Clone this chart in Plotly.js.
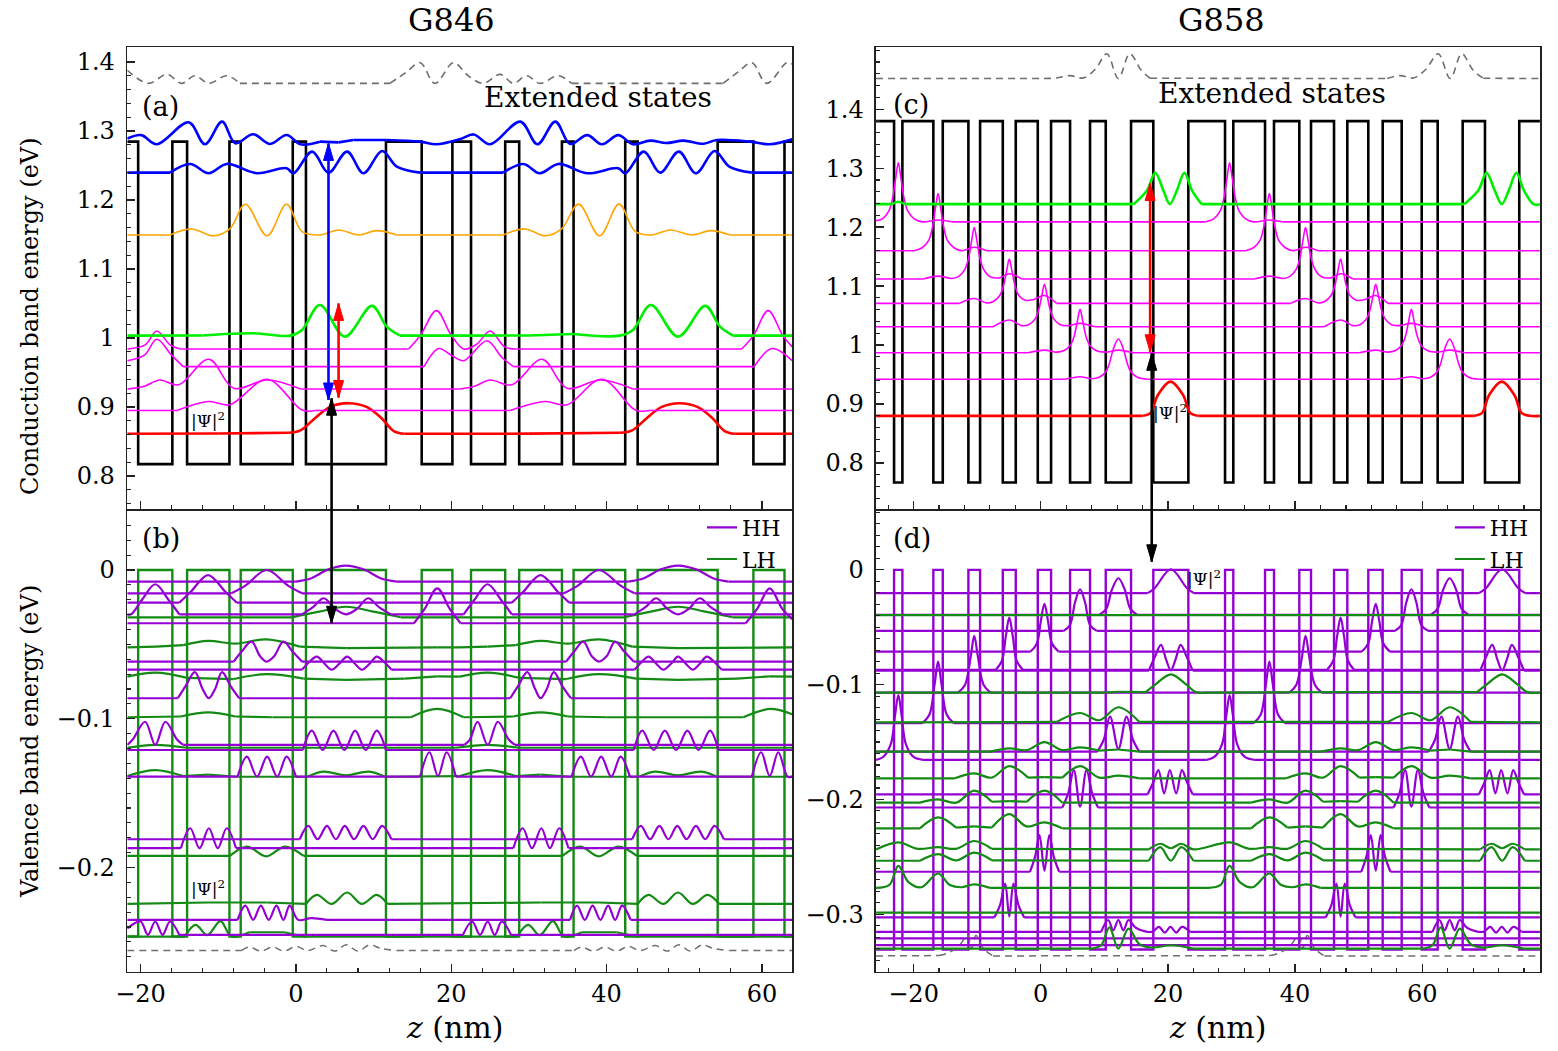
<!DOCTYPE html>
<html><head><meta charset="utf-8">
<script src="https://cdn.plot.ly/plotly-3.0.1.min.js"></script>
<style>html,body{margin:0;padding:0;background:#fff}#chart{width:1558px;height:1051px}</style>
</head><body><div id="chart"></div>
<script>
// ---------------- axis ranges ----------------
const zRangeL = [-21.7, 63.9];
const zRangeR = [-25.9, 78.5];
const eRangeA = [0.752, 1.4213];
const eRangeB = [-0.270, 0.041];
const eRangeC = [0.722, 1.505];
const eRangeD = [-0.350, 0.053];
const zTicks = [-20, 0, 20, 40, 60];
const eTicksA = [0.8, 0.9, 1.0, 1.1, 1.2, 1.3, 1.4];
const eTicksB = [-0.2, -0.1, 0];
const eTicksC = [0.8, 0.9, 1.0, 1.1, 1.2, 1.3, 1.4];
const eTicksD = [-0.3, -0.2, -0.1, 0];

// ---------------- potential profiles (well edges, nm) ----------------
const wellsL = [[-20.3,-15.9],[-14.0,-8.55],[-7.1,-0.4],[1.3,11.6],[16.2,20.15],[22.55,26.95],[28.75,34.25],[35.75,42.4],[44.0,54.3],[58.9,62.9]];
const wellsR = [[-23.07,-21.76],[-16.89,-15.41],[-11.38,-9.54],[-5.97,-3.93],[-0.47,1.62],[4.61,7.75],[10.22,14.20],[17.70,23.21],[28.98,30.28],[35.27,36.68],[40.66,42.50],[46.12,48.21],[51.51,53.77],[56.76,59.91],[62.42,66.35],[69.86,75.25]];
const cbLevelsL = [1.2845, 0.817];   // barrier, well
const vbLevelsL = [-0.2464, 0.0];
const cbLevelsR = [1.3797, 0.767];
const vbLevelsR = [-0.3307, 0.0];

// ---------------- transition arrows: [z, E_tip1, E_tip2] ----------------
const arrowBlueA = [4.2, 0.910, 1.282];
const arrowRedA  = [5.5, 0.9135, 1.050];
const arrowBlackA = [4.6, 0.9126, -0.0358];   // from (a) down into (b)
const arrowRedC  = [17.2, 0.9887, 1.274];
const arrowBlackC = [17.45, 0.986, 0.007];    // from (c) down into (d)

// ---------------- (a) G846 conduction band |Psi|^2 ----------------
const aDashed = [[-21.7,1.388],[-19.0,1.369],[-16.6,1.382],[-14.7,1.369],[-13.0,1.380],[-11.2,1.369],[-8.9,1.380],[-7.2,1.369],[12.1,1.369],[14.2,1.385],[16.0,1.399],[17.9,1.369],[20.3,1.399],[22.2,1.380],[24.1,1.369],[26.3,1.382],[28.0,1.369],[29.7,1.380],[31.4,1.369],[33.8,1.380],[35.5,1.369],[55.0,1.369],[57.0,1.386],[58.7,1.399],[60.6,1.369],[63.2,1.399],[63.9,1.397]];
const aBlueUpper = [[-21.7,1.289],[-19.9,1.294],[-17.9,1.2807],[-13.8,1.3126],[-11.7,1.2807],[-9.5,1.3135],[-7.8,1.2822],[-5.5,1.2952],[-3.3,1.2812],[-1.2,1.2942],[0.6,1.2807],[3.1,1.2845],[5.5,1.2835],[7.4,1.287],[11.7,1.287],[16.0,1.2845],[18.1,1.2807],[21.1,1.288],[22.9,1.295],[25.0,1.2807],[28.9,1.3135],[31.1,1.2807],[33.4,1.3135],[35.3,1.2812],[37.5,1.294],[39.4,1.2807],[41.5,1.294],[43.4,1.2807],[45.6,1.286],[47.7,1.2825],[49.9,1.286],[52.5,1.2815],[54.2,1.287],[58.5,1.2845],[61.0,1.2807],[63.9,1.288]];
const aBlueLower = [[-21.7,1.2396],[-16.2,1.2396],[-13.6,1.2522],[-11.2,1.2387],[-8.9,1.2522],[-5.0,1.2387],[-1.2,1.246],[-0.3,1.2387],[2.1,1.27],[4.2,1.2396],[6.6,1.27],[8.7,1.2387],[11.1,1.271],[13.0,1.2483],[16.0,1.2396],[26.7,1.2396],[29.3,1.2522],[31.4,1.2387],[33.8,1.2522],[37.5,1.2387],[41.5,1.246],[42.4,1.2387],[44.8,1.27],[46.9,1.2396],[49.3,1.27],[51.5,1.2387],[53.9,1.271],[55.8,1.2483],[58.7,1.2396],[63.9,1.2396]];
const aOrange = [[-21.7,1.1493],[-16.2,1.1493],[-13.4,1.158],[-10.6,1.148],[-8.5,1.158],[-6.5,1.1938],[-3.7,1.148],[-1.2,1.1938],[0.8,1.154],[3.1,1.1493],[5.5,1.1565],[8.1,1.1493],[10.4,1.1555],[13.0,1.1493],[26.7,1.1493],[29.5,1.158],[32.1,1.148],[34.2,1.158],[36.4,1.194],[39.1,1.148],[41.6,1.194],[43.7,1.154],[45.8,1.1493],[48.2,1.1565],[51.0,1.1493],[53.4,1.1555],[55.9,1.1493],[63.9,1.1493]];
const aGreen = [[-21.7,1.0033],[-12.0,1.0036],[-5.5,1.0068],[-0.7,1.0033],[0.8,1.0116],[3.1,1.0478],[6.3,1.0019],[9.8,1.0464],[11.7,1.0164],[13.4,1.0033],[21.1,1.0033],[30.0,1.0036],[35.7,1.0058],[41.7,1.0033],[43.4,1.0116],[45.7,1.0478],[49.2,1.0019],[52.7,1.0464],[54.6,1.0164],[56.3,1.0033],[63.9,1.0033]];
const aMag1 = [[-21.7,0.984],[-19.4,0.990],[-17.9,1.0101],[-16.2,0.990],[-14.9,0.984],[14.5,0.984],[16.0,1.0033],[18.1,1.0396],[19.9,1.006],[21.6,0.984],[23.3,0.991],[25.0,1.0101],[26.9,0.987],[28.4,0.984],[57.4,0.984],[58.9,1.0033],[60.8,1.0396],[62.7,1.0033],[63.9,0.987]];
const aMag2 = [[-21.7,0.967],[-19.5,0.975],[-17.9,0.998],[-16.0,0.975],[-14.5,0.9584],[16.5,0.9584],[18.4,0.9846],[20.0,0.975],[21.6,0.967],[24.6,0.996],[26.5,0.972],[28.0,0.9584],[59.0,0.9584],[61.3,0.9846],[63.9,0.967]];
const aMag3 = [[-21.7,0.926],[-19.5,0.930],[-17.5,0.939],[-15.1,0.932],[-11.2,0.969],[-8.0,0.927],[-3.7,0.939],[0.6,0.926],[21.1,0.926],[23.0,0.930],[25.0,0.939],[27.8,0.932],[31.7,0.969],[34.9,0.927],[39.2,0.939],[43.4,0.926],[63.9,0.926]];
const aMag4 = [[-21.7,0.8947],[-15.3,0.8947],[-11.2,0.9078],[-8.5,0.903],[-3.7,0.9401],[0.8,0.8955],[2.5,0.8947],[27.6,0.8947],[32.1,0.9078],[34.9,0.903],[39.4,0.9401],[43.7,0.8955],[45.5,0.8947],[63.9,0.8947]];
const aRed = [[-21.7,0.861],[-10.0,0.8615],[-1.0,0.8625],[0.6,0.866],[2.5,0.884],[4.4,0.900],[6.8,0.9054],[9.1,0.900],[11.0,0.884],[12.6,0.865],[14.0,0.861],[30.0,0.8612],[41.7,0.8625],[43.3,0.866],[45.2,0.884],[47.1,0.900],[49.4,0.9054],[51.7,0.900],[53.6,0.884],[55.2,0.865],[56.5,0.861],[63.9,0.861]];

// ---------------- (b) G846 valence band ----------------
const bHH = [
 [[-21.7,-0.0078],[0.0,-0.0078],[2.0,-0.0055],[4.2,0.0005],[6.45,0.003],[8.7,0.0005],[10.9,-0.0055],[13.0,-0.0078],[42.8,-0.0078],[44.8,-0.0055],[47.0,0.0005],[49.2,0.003],[51.5,0.0005],[53.7,-0.0055],[55.7,-0.0078],[63.9,-0.0078]],
 [[-21.7,-0.0157],[-8.3,-0.0157],[-6.5,-0.0105],[-3.75,0.0],[-1.0,-0.0105],[0.8,-0.0157],[34.5,-0.0157],[36.3,-0.0105],[39.0,0.0],[41.8,-0.0105],[43.6,-0.0157],[63.9,-0.0157]],
 [[-21.7,-0.022],[-15.0,-0.022],[-13.5,-0.0145],[-11.3,-0.0034],[-9.1,-0.0145],[-7.6,-0.022],[27.8,-0.022],[29.3,-0.0145],[31.5,-0.0034],[33.7,-0.0145],[35.2,-0.022],[63.9,-0.022]],
 [[-21.7,-0.0298],[-21.2,-0.0298],[-19.8,-0.020],[-18.1,-0.0096],[-16.4,-0.020],[-15.0,-0.0298],[0.8,-0.0298],[2.2,-0.025],[3.6,-0.019],[5.0,-0.026],[6.45,-0.0298],[7.9,-0.026],[9.3,-0.019],[10.7,-0.025],[12.2,-0.0298],[21.6,-0.0298],[23.0,-0.020],[24.67,-0.0096],[26.4,-0.020],[27.8,-0.0298],[43.6,-0.0298],[45.0,-0.025],[46.4,-0.019],[47.8,-0.026],[49.2,-0.0298],[50.6,-0.026],[52.0,-0.019],[53.4,-0.025],[54.9,-0.0298],[63.9,-0.0298]],
 [[-21.7,-0.0358],[15.2,-0.0358],[16.6,-0.026],[18.2,-0.0123],[19.8,-0.026],[21.2,-0.0358],[57.9,-0.0358],[59.4,-0.026],[61.0,-0.0123],[62.6,-0.026],[63.9,-0.033]],
 [[-21.7,-0.0616],[-8.0,-0.0616],[-7.0,-0.055],[-5.7,-0.0482],[-4.6,-0.058],[-3.75,-0.0616],[-2.8,-0.058],[-1.6,-0.0482],[-0.4,-0.055],[0.8,-0.0616],[34.8,-0.0616],[35.8,-0.055],[37.0,-0.0482],[38.1,-0.058],[39.0,-0.0616],[40.0,-0.058],[41.1,-0.0482],[42.3,-0.055],[43.5,-0.0616],[63.9,-0.0616]],
 [[-21.7,-0.067],[0.8,-0.067],[1.7,-0.062],[2.7,-0.0583],[3.7,-0.063],[4.6,-0.067],[5.6,-0.063],[6.6,-0.0583],[7.6,-0.063],[8.5,-0.067],[9.5,-0.063],[10.4,-0.0583],[11.4,-0.062],[12.3,-0.067],[43.6,-0.067],[44.5,-0.062],[45.4,-0.0583],[46.4,-0.063],[47.3,-0.067],[48.3,-0.063],[49.2,-0.0583],[50.2,-0.063],[51.1,-0.067],[52.0,-0.063],[52.9,-0.0583],[53.9,-0.062],[54.8,-0.067],[63.9,-0.067]],
 [[-21.7,-0.0862],[-15.2,-0.0862],[-14.2,-0.078],[-13.0,-0.0687],[-12.0,-0.080],[-11.2,-0.0862],[-10.4,-0.080],[-9.5,-0.0687],[-8.4,-0.078],[-7.3,-0.0862],[27.6,-0.0862],[28.6,-0.078],[29.8,-0.0687],[30.8,-0.080],[31.5,-0.0862],[32.3,-0.080],[33.2,-0.0687],[34.3,-0.078],[35.4,-0.0862],[63.9,-0.0862]],
 [[-21.7,-0.1176],[-21.0,-0.114],[-19.4,-0.102],[-18.1,-0.1176],[-16.8,-0.102],[-15.3,-0.114],[-14.5,-0.1176],[21.7,-0.1176],[22.4,-0.114],[23.4,-0.102],[24.7,-0.1176],[26.0,-0.102],[27.4,-0.114],[28.2,-0.1176],[63.9,-0.1176]],
 [[-21.7,-0.121],[0.9,-0.121],[2.06,-0.108],[3.45,-0.121],[4.84,-0.108],[6.24,-0.121],[7.63,-0.108],[9.0,-0.121],[10.4,-0.108],[11.6,-0.121],[43.5,-0.121],[44.6,-0.108],[46.05,-0.121],[47.5,-0.108],[48.95,-0.121],[50.4,-0.108],[51.85,-0.121],[53.3,-0.108],[54.4,-0.121],[63.9,-0.121]],
 [[-21.7,-0.1389],[-7.5,-0.1389],[-6.3,-0.1255],[-5.0,-0.1389],[-3.7,-0.1255],[-2.4,-0.1389],[-1.2,-0.1255],[0.0,-0.1389],[16.0,-0.1389],[17.2,-0.1225],[18.3,-0.1385],[19.4,-0.1225],[20.6,-0.1389],[35.5,-0.1389],[36.7,-0.1255],[38.0,-0.1389],[39.3,-0.1255],[40.6,-0.1389],[41.8,-0.1255],[43.0,-0.1389],[58.7,-0.1389],[59.9,-0.1225],[61.0,-0.1385],[62.1,-0.1225],[63.3,-0.1389],[63.9,-0.1389]],
 [[-21.7,-0.181],[0.5,-0.181],[1.6,-0.172],[2.8,-0.181],[4.0,-0.172],[5.15,-0.181],[6.3,-0.172],[7.5,-0.181],[8.7,-0.172],[9.9,-0.181],[11.1,-0.172],[12.3,-0.181],[43.3,-0.181],[44.4,-0.172],[45.6,-0.181],[46.8,-0.172],[47.95,-0.181],[49.1,-0.172],[50.3,-0.181],[51.5,-0.172],[52.7,-0.181],[53.9,-0.172],[55.1,-0.181],[63.9,-0.181]],
 [[-21.7,-0.187],[-14.8,-0.187],[-13.6,-0.1736],[-12.4,-0.187],[-11.2,-0.1736],[-10.05,-0.187],[-8.9,-0.1736],[-7.7,-0.187],[28.0,-0.187],[29.2,-0.1736],[30.4,-0.187],[31.6,-0.1736],[32.7,-0.187],[33.9,-0.1736],[35.1,-0.187],[63.9,-0.187]],
 [[-21.7,-0.2352],[-7.5,-0.2352],[-6.5,-0.2256],[-5.5,-0.2352],[-4.5,-0.2256],[-3.5,-0.2352],[-2.5,-0.2256],[-1.6,-0.2352],[-0.8,-0.2256],[0.3,-0.2352],[2.0,-0.234],[4.0,-0.2352],[35.3,-0.2352],[36.2,-0.2256],[37.2,-0.2352],[38.2,-0.2256],[39.2,-0.2352],[40.2,-0.2256],[41.1,-0.2352],[42.0,-0.2256],[43.1,-0.2352],[63.9,-0.2352]],
 [[-21.7,-0.241],[-20.0,-0.2363],[-19.05,-0.2453],[-18.1,-0.2363],[-17.15,-0.2453],[-16.2,-0.2363],[-15.0,-0.2453],[21.5,-0.2453],[22.7,-0.2363],[23.7,-0.2453],[24.7,-0.2363],[25.6,-0.2453],[26.5,-0.2363],[27.7,-0.2453],[63.9,-0.2453]]
];
const bLH = [
 [[-21.7,-0.0318],[-0.5,-0.0318],[3.0,-0.028],[6.45,-0.0247],[10.0,-0.028],[13.5,-0.0318],[42.3,-0.0318],[45.7,-0.028],[49.2,-0.0247],[52.7,-0.028],[56.2,-0.0318],[63.9,-0.0318]],
 [[-21.7,-0.052],[-18.0,-0.0515],[-14.5,-0.0505],[-11.3,-0.0477],[-7.8,-0.0495],[-3.75,-0.0466],[0.5,-0.0515],[6.5,-0.0525],[18.2,-0.052],[21.0,-0.052],[24.7,-0.0515],[28.3,-0.0505],[31.5,-0.0477],[35.0,-0.0495],[39.0,-0.0466],[43.3,-0.0515],[49.2,-0.0525],[63.9,-0.052]],
 [[-21.7,-0.0717],[-18.1,-0.069],[-14.0,-0.0725],[-8.0,-0.0733],[-3.75,-0.070],[1.0,-0.073],[6.45,-0.0738],[14.0,-0.073],[18.2,-0.0715],[21.1,-0.0717],[24.7,-0.069],[28.8,-0.0725],[34.8,-0.0733],[39.0,-0.070],[43.8,-0.073],[49.2,-0.0738],[56.8,-0.073],[61.0,-0.0715],[63.9,-0.0717]],
 [[-21.7,-0.099],[-14.8,-0.0985],[-11.3,-0.0957],[-7.8,-0.0985],[-3.0,-0.099],[14.8,-0.099],[18.2,-0.0934],[21.6,-0.099],[28.0,-0.0985],[31.5,-0.0957],[35.0,-0.0985],[40.0,-0.099],[57.6,-0.099],[61.0,-0.0934],[63.9,-0.097]],
 [[-21.7,-0.1195],[-18.1,-0.1175],[-14.0,-0.1195],[20.6,-0.1195],[24.7,-0.1175],[28.8,-0.1195],[63.9,-0.1195]],
 [[-21.7,-0.1385],[-18.1,-0.1345],[-14.5,-0.1385],[-11.3,-0.1375],[-7.5,-0.139],[1.5,-0.139],[3.5,-0.1355],[6.45,-0.138],[9.4,-0.1355],[11.5,-0.139],[21.1,-0.1385],[24.7,-0.1345],[28.3,-0.1385],[31.5,-0.1375],[35.3,-0.139],[44.2,-0.139],[46.2,-0.1355],[49.2,-0.138],[52.2,-0.1355],[54.2,-0.139],[63.9,-0.139]],
 [[-21.7,-0.1922],[-8.5,-0.1922],[-6.3,-0.1859],[-3.8,-0.1925],[-1.4,-0.1859],[1.0,-0.1922],[34.3,-0.1922],[36.6,-0.1859],[39.0,-0.1925],[41.5,-0.1859],[43.9,-0.1922],[63.9,-0.1922]],
 [[-21.7,-0.2245],[-11.3,-0.2235],[-3.75,-0.2235],[1.3,-0.2245],[2.7,-0.2184],[4.6,-0.2245],[6.6,-0.2168],[8.5,-0.2245],[10.4,-0.2184],[11.8,-0.2245],[31.5,-0.2235],[39.0,-0.2235],[44.0,-0.2245],[45.4,-0.2184],[47.3,-0.2245],[49.2,-0.2168],[51.1,-0.2245],[53.0,-0.2184],[54.5,-0.2245],[63.9,-0.2245]],
 [[-21.7,-0.2464],[-14.3,-0.2464],[-12.9,-0.2385],[-11.4,-0.2455],[-9.7,-0.236],[-8.3,-0.2464],[-6.0,-0.2435],[-1.5,-0.2435],[1.0,-0.2464],[28.5,-0.2464],[29.9,-0.2385],[31.4,-0.2455],[33.1,-0.236],[34.5,-0.2464],[36.8,-0.2435],[41.3,-0.2435],[43.8,-0.2464],[63.9,-0.2464]]
];
const bDashed = [[-21.7,-0.2558],[-7.0,-0.2558],[-6.0,-0.2535],[-4.5,-0.2562],[-3.0,-0.2535],[-1.5,-0.2562],[0.0,-0.253],[1.5,-0.2558],[3.5,-0.2525],[5.0,-0.2562],[6.5,-0.252],[8.0,-0.2562],[9.5,-0.252],[11.0,-0.2545],[13.0,-0.2558],[35.8,-0.2558],[36.8,-0.2535],[38.3,-0.2562],[39.8,-0.2535],[41.3,-0.2562],[42.8,-0.253],[44.3,-0.2558],[46.3,-0.2525],[47.8,-0.2562],[49.3,-0.252],[50.8,-0.2562],[52.3,-0.252],[53.8,-0.2545],[55.8,-0.2558],[63.9,-0.2558]];

// ---------------- (c) G858 conduction band ----------------
const cDashed = [[-25.9,1.452],[0.5,1.452],[2.5,1.453],[4.6,1.457],[6.7,1.453],[8.6,1.468],[10.4,1.494],[12.2,1.452],[14.0,1.494],[15.8,1.466],[17.2,1.4525],[54.5,1.452],[56.5,1.457],[58.6,1.453],[60.6,1.468],[62.5,1.494],[64.4,1.452],[66.2,1.494],[68.0,1.466],[69.6,1.4525],[78.5,1.452]];
const cGreen = [[-25.9,1.239],[-23.4,1.239],[-22.4,1.243],[-21.4,1.239],[14.6,1.239],[16.7,1.262],[18.0,1.292],[19.3,1.262],[20.3,1.239],[21.4,1.262],[22.6,1.292],[23.8,1.262],[25.3,1.239],[66.6,1.239],[68.8,1.262],[70.1,1.292],[71.4,1.262],[72.5,1.239],[73.6,1.262],[74.8,1.292],[76.0,1.262],[77.5,1.239],[78.5,1.239]];
const cMag = [
 [[-25.9,1.211],[-24.9,1.214],[-23.9,1.227],[-23.3,1.249],[-22.8,1.284],[-22.4,1.309],[-22.0,1.284],[-21.5,1.249],[-20.9,1.227],[-19.9,1.214],[-18.6,1.209],[-16.15,1.212],[-14.0,1.209],[25.9,1.209],[27.2,1.214],[28.2,1.227],[28.8,1.249],[29.3,1.284],[29.7,1.309],[30.1,1.284],[30.6,1.249],[31.2,1.227],[32.2,1.214],[33.5,1.209],[35.95,1.212],[38.0,1.209],[78.5,1.209]],
 [[-25.9,1.160],[-19.9,1.160],[-18.65,1.165],[-17.65,1.177],[-17.05,1.199],[-16.55,1.233],[-16.15,1.257],[-15.75,1.233],[-15.25,1.199],[-14.65,1.177],[-13.65,1.165],[-12.4,1.160],[-10.46,1.166],[-8.5,1.160],[32.2,1.160],[33.45,1.165],[34.45,1.177],[35.05,1.199],[35.55,1.233],[35.95,1.257],[36.35,1.233],[36.85,1.199],[37.45,1.177],[38.45,1.165],[39.7,1.160],[41.64,1.166],[43.6,1.160],[78.5,1.160]],
 [[-25.9,1.112],[-18.5,1.112],[-16.15,1.117],[-14.0,1.113],[-12.96,1.116],[-11.96,1.128],[-11.36,1.147],[-10.86,1.178],[-10.46,1.1995],[-10.06,1.178],[-9.56,1.147],[-8.96,1.128],[-7.96,1.116],[-6.5,1.114],[-4.95,1.121],[-3.0,1.112],[33.6,1.112],[35.95,1.117],[38.1,1.113],[39.14,1.116],[40.14,1.128],[40.74,1.147],[41.24,1.178],[41.64,1.1995],[42.04,1.178],[42.54,1.147],[43.14,1.128],[44.14,1.116],[45.6,1.114],[47.15,1.121],[49.1,1.112],[78.5,1.112]],
 [[-25.9,1.0707],[-12.8,1.0707],[-10.46,1.079],[-8.5,1.0715],[-7.45,1.074],[-6.45,1.084],[-5.85,1.101],[-5.35,1.127],[-4.95,1.1458],[-4.55,1.127],[-4.05,1.101],[-3.45,1.084],[-2.45,1.076],[-1.2,1.077],[0.58,1.084],[2.5,1.0707],[39.3,1.0707],[41.64,1.079],[43.6,1.0715],[44.65,1.074],[45.65,1.084],[46.25,1.101],[46.75,1.127],[47.15,1.1458],[47.55,1.127],[48.05,1.101],[48.65,1.084],[49.65,1.076],[50.9,1.077],[52.68,1.084],[54.6,1.0707],[78.5,1.0707]],
 [[-25.9,1.031],[-7.5,1.031],[-4.95,1.0424],[-3.0,1.033],[-1.92,1.0346],[-0.92,1.044],[-0.32,1.0598],[0.18,1.085],[0.58,1.1029],[0.98,1.085],[1.48,1.0598],[2.08,1.044],[3.08,1.0346],[4.4,1.033],[6.18,1.0368],[8.5,1.031],[44.6,1.031],[47.15,1.0424],[49.1,1.033],[50.18,1.0346],[51.18,1.044],[51.78,1.0598],[52.28,1.085],[52.68,1.1029],[53.08,1.085],[53.58,1.0598],[54.18,1.044],[55.18,1.0346],[56.5,1.033],[58.28,1.0368],[60.6,1.031],[78.5,1.031]],
 [[-25.9,0.987],[-2.0,0.987],[0.58,0.9915],[2.5,0.988],[3.68,0.9907],[4.68,1.0002],[5.28,1.0164],[5.78,1.042],[6.18,1.0605],[6.58,1.042],[7.08,1.0164],[7.68,1.0002],[8.68,0.9907],[10.2,0.988],[12.21,0.9915],[14.5,0.987],[50.1,0.987],[52.68,0.9915],[54.6,0.988],[55.78,0.9907],[56.78,1.0002],[57.38,1.0164],[57.88,1.042],[58.28,1.0605],[58.68,1.042],[59.18,1.0164],[59.78,1.0002],[60.78,0.9907],[62.3,0.988],[64.31,0.9915],[66.6,0.987],[78.5,0.987]],
 [[-25.9,0.942],[3.8,0.942],[6.18,0.9463],[8.0,0.943],[9.2,0.9454],[10.2,0.9542],[10.8,0.9692],[11.4,0.993],[12.21,1.0102],[13.0,0.993],[13.6,0.9692],[14.2,0.9542],[15.2,0.9454],[16.8,0.942],[55.9,0.942],[58.28,0.9463],[60.1,0.943],[61.3,0.9454],[62.3,0.9542],[62.9,0.9692],[63.5,0.993],[64.31,1.0102],[65.1,0.993],[65.7,0.9692],[66.3,0.9542],[67.3,0.9454],[68.9,0.942],[78.5,0.942]]
];
const cRed = [[-25.9,0.880],[16.0,0.880],[17.3,0.885],[18.4,0.915],[20.4,0.938],[22.4,0.915],[23.5,0.885],[24.8,0.880],[68.1,0.880],[69.4,0.885],[70.5,0.915],[72.5,0.938],[74.5,0.915],[75.6,0.885],[76.9,0.880],[78.5,0.880]];

// ---------------- (d) G858 valence band ----------------
const dHH = [
 [[-25.9,-0.0203],[16.8,-0.0203],[17.9,-0.016],[20.46,0.0005],[23.0,-0.016],[24.1,-0.0203],[68.9,-0.0203],[70.0,-0.016],[72.56,0.0005],[75.1,-0.016],[76.2,-0.0203],[78.5,-0.0203]],
 [[-25.9,-0.0392],[9.2,-0.0392],[10.3,-0.034],[11.2,-0.017],[12.21,-0.0073],[13.2,-0.017],[14.1,-0.034],[15.2,-0.0392],[61.3,-0.0392],[62.4,-0.034],[63.3,-0.017],[64.31,-0.0073],[65.3,-0.017],[66.2,-0.034],[67.3,-0.0392],[78.5,-0.0392]],
 [[-25.9,-0.0532],[3.6,-0.0532],[4.6,-0.048],[5.4,-0.028],[6.18,-0.0169],[6.95,-0.028],[7.75,-0.048],[8.8,-0.0532],[55.7,-0.0532],[56.7,-0.048],[57.5,-0.028],[58.28,-0.0169],[59.05,-0.028],[59.85,-0.048],[60.9,-0.0532],[78.5,-0.0532]],
 [[-25.9,-0.0712],[-1.6,-0.0712],[-0.6,-0.064],[0.0,-0.045],[0.58,-0.0296],[1.15,-0.045],[1.75,-0.064],[2.8,-0.0712],[50.5,-0.0712],[51.5,-0.064],[52.1,-0.045],[52.68,-0.0296],[53.25,-0.045],[53.85,-0.064],[54.9,-0.0712],[78.5,-0.0712]],
 [[-25.9,-0.0872],[-7.1,-0.0872],[-6.1,-0.079],[-5.5,-0.058],[-4.95,-0.0416],[-4.4,-0.058],[-3.8,-0.079],[-2.8,-0.0872],[45.0,-0.0872],[46.0,-0.079],[46.6,-0.058],[47.15,-0.0416],[47.7,-0.058],[48.3,-0.079],[49.3,-0.0872],[78.5,-0.0872]],
 [[-25.9,-0.0878],[17.0,-0.0878],[18.0,-0.075],[18.9,-0.0654],[19.7,-0.078],[20.46,-0.0875],[21.2,-0.078],[22.0,-0.0654],[22.9,-0.075],[23.9,-0.0878],[69.1,-0.0878],[70.1,-0.075],[71.0,-0.0654],[71.8,-0.078],[72.56,-0.0875],[73.3,-0.078],[74.1,-0.0654],[75.0,-0.075],[76.0,-0.0878],[78.5,-0.0878]],
 [[-25.9,-0.107],[-13.0,-0.107],[-11.9,-0.100],[-11.0,-0.075],[-10.46,-0.0575],[-9.9,-0.075],[-9.0,-0.100],[-7.9,-0.107],[39.1,-0.107],[40.2,-0.100],[41.1,-0.075],[41.64,-0.0575],[42.2,-0.075],[43.1,-0.100],[44.2,-0.107],[78.5,-0.107]],
 [[-25.9,-0.1335],[-18.6,-0.1335],[-17.5,-0.126],[-16.7,-0.100],[-16.15,-0.080],[-15.6,-0.100],[-14.8,-0.126],[-13.7,-0.1335],[33.5,-0.1335],[34.6,-0.126],[35.4,-0.100],[35.95,-0.080],[36.5,-0.100],[37.3,-0.126],[38.4,-0.1335],[78.5,-0.1335]],
 [[-25.9,-0.1655],[-24.8,-0.163],[-23.6,-0.152],[-22.9,-0.126],[-22.4,-0.109],[-21.9,-0.126],[-21.2,-0.152],[-20.0,-0.163],[-18.5,-0.1655],[26.1,-0.1655],[27.3,-0.163],[28.5,-0.152],[29.2,-0.126],[29.7,-0.109],[30.2,-0.126],[30.9,-0.152],[32.1,-0.163],[33.6,-0.1655],[78.5,-0.1655]],
 [[-25.9,-0.1584],[8.9,-0.1584],[9.9,-0.148],[10.9,-0.1279],[12.21,-0.156],[13.5,-0.1279],[14.5,-0.148],[15.5,-0.1584],[61.0,-0.1584],[62.0,-0.148],[63.0,-0.1279],[64.31,-0.156],[65.6,-0.1279],[66.6,-0.148],[67.6,-0.1584],[78.5,-0.1584]],
 [[-25.9,-0.1956],[16.8,-0.1956],[17.7,-0.185],[18.5,-0.1744],[19.4,-0.1947],[20.3,-0.1744],[21.3,-0.1947],[22.2,-0.1744],[23.0,-0.185],[23.9,-0.1956],[68.9,-0.1956],[69.8,-0.185],[70.6,-0.1744],[71.5,-0.1947],[72.4,-0.1744],[73.4,-0.1947],[74.3,-0.1744],[75.1,-0.185],[76.0,-0.1956],[78.5,-0.1956]],
 [[-25.9,-0.207],[3.4,-0.207],[4.3,-0.195],[5.2,-0.1744],[6.18,-0.2063],[7.2,-0.1744],[8.1,-0.195],[9.0,-0.207],[55.5,-0.207],[56.4,-0.195],[57.3,-0.1744],[58.28,-0.2063],[59.3,-0.1744],[60.2,-0.195],[61.1,-0.207],[78.5,-0.207]],
 [[-25.9,-0.263],[-1.7,-0.263],[-0.9,-0.25],[-0.2,-0.231],[0.58,-0.262],[1.35,-0.231],[2.05,-0.25],[2.9,-0.263],[50.4,-0.263],[51.2,-0.25],[51.9,-0.231],[52.68,-0.262],[53.45,-0.231],[54.15,-0.25],[55.0,-0.263],[78.5,-0.263]],
 [[-25.9,-0.3028],[-7.3,-0.3028],[-6.4,-0.292],[-5.6,-0.2732],[-4.95,-0.302],[-4.3,-0.2732],[-3.5,-0.292],[-2.6,-0.3028],[44.8,-0.3028],[45.7,-0.292],[46.5,-0.2732],[47.15,-0.302],[47.8,-0.2732],[48.6,-0.292],[49.5,-0.3028],[78.5,-0.3028]],
 [[-25.9,-0.3153],[9.5,-0.3153],[10.6,-0.305],[11.4,-0.314],[12.2,-0.305],[13.0,-0.314],[13.8,-0.305],[15.0,-0.312],[17.5,-0.3153],[18.6,-0.311],[19.5,-0.316],[20.4,-0.311],[21.3,-0.316],[22.2,-0.311],[23.5,-0.3153],[61.6,-0.3153],[62.7,-0.305],[63.5,-0.314],[64.3,-0.305],[65.1,-0.314],[65.9,-0.305],[67.1,-0.312],[69.6,-0.3153],[70.7,-0.311],[71.6,-0.316],[72.5,-0.311],[73.4,-0.316],[74.3,-0.311],[75.6,-0.3153],[78.5,-0.3153]],
 [[-25.9,-0.3211],[78.5,-0.3211]],
 [[-25.9,-0.3269],[78.5,-0.3269]]
];
const dLH = [
 [[-25.9,-0.0395],[78.5,-0.0395]],
 [[-25.9,-0.1069],[10.0,-0.1069],[12.2,-0.1062],[16.5,-0.1065],[18.0,-0.100],[20.46,-0.091],[22.9,-0.100],[24.4,-0.1065],[26.0,-0.1069],[64.3,-0.1062],[68.6,-0.1065],[70.1,-0.100],[72.56,-0.091],[75.0,-0.100],[76.5,-0.1065],[78.5,-0.1069]],
 [[-25.9,-0.1328],[2.5,-0.1325],[6.18,-0.1247],[9.2,-0.131],[12.21,-0.1197],[15.5,-0.1325],[20.5,-0.1325],[54.6,-0.1325],[58.28,-0.1247],[61.3,-0.131],[64.31,-0.1197],[67.6,-0.1325],[78.5,-0.1328]],
 [[-25.9,-0.1584],[-8.0,-0.1584],[-4.95,-0.1555],[-2.2,-0.157],[0.58,-0.150],[3.4,-0.157],[6.18,-0.1546],[9.2,-0.1575],[12.21,-0.1565],[15.5,-0.1584],[44.1,-0.1584],[47.15,-0.1555],[49.9,-0.157],[52.68,-0.150],[55.5,-0.157],[58.28,-0.1546],[61.3,-0.1575],[64.31,-0.1565],[67.6,-0.1584],[78.5,-0.1584]],
 [[-25.9,-0.1816],[-13.5,-0.1816],[-10.46,-0.1773],[-7.7,-0.181],[-4.95,-0.1709],[-2.0,-0.181],[0.58,-0.1805],[3.4,-0.181],[6.18,-0.1709],[9.2,-0.181],[12.21,-0.1793],[15.5,-0.1816],[38.6,-0.1816],[41.64,-0.1773],[44.4,-0.181],[47.15,-0.1709],[50.1,-0.181],[52.68,-0.1805],[55.5,-0.181],[58.28,-0.1709],[61.3,-0.181],[64.31,-0.1793],[67.6,-0.1816],[78.5,-0.1816]],
 [[-25.9,-0.2028],[-19.0,-0.2028],[-16.15,-0.2000],[-13.3,-0.2028],[-10.46,-0.1924],[-7.7,-0.202],[-4.95,-0.2015],[-2.2,-0.202],[0.58,-0.1924],[3.4,-0.2028],[33.1,-0.2028],[35.95,-0.2000],[38.8,-0.2028],[41.64,-0.1924],[44.4,-0.202],[47.15,-0.2015],[49.9,-0.202],[52.68,-0.1924],[55.5,-0.2028],[78.5,-0.2028]],
 [[-25.9,-0.2252],[-19.0,-0.2252],[-16.15,-0.2156],[-13.3,-0.2245],[-10.46,-0.2235],[-7.7,-0.2245],[-4.95,-0.2127],[-2.2,-0.2235],[0.58,-0.2199],[3.4,-0.2252],[33.1,-0.2252],[35.95,-0.2156],[38.8,-0.2245],[41.64,-0.2235],[44.4,-0.2245],[47.15,-0.2127],[49.9,-0.2235],[52.68,-0.2199],[55.5,-0.2252],[78.5,-0.2252]],
 [[-25.9,-0.2435],[-22.4,-0.2374],[-19.3,-0.243],[-16.15,-0.2415],[-13.3,-0.243],[-10.46,-0.2362],[-7.7,-0.243],[17.0,-0.2435],[18.8,-0.2386],[20.46,-0.2425],[22.1,-0.2386],[24.0,-0.2435],[29.7,-0.2374],[32.8,-0.243],[35.95,-0.2415],[38.8,-0.243],[41.64,-0.2362],[44.4,-0.243],[69.1,-0.2435],[70.9,-0.2386],[72.56,-0.2425],[74.2,-0.2386],[76.1,-0.2435],[78.5,-0.2435]],
 [[-25.9,-0.2534],[-19.0,-0.2534],[-16.15,-0.2476],[-13.3,-0.253],[-10.46,-0.2464],[-7.7,-0.253],[17.0,-0.2534],[18.8,-0.2415],[20.46,-0.2534],[22.1,-0.2415],[24.0,-0.2534],[33.1,-0.2534],[35.95,-0.2476],[38.8,-0.253],[41.64,-0.2464],[44.4,-0.253],[69.1,-0.2534],[70.9,-0.2415],[72.56,-0.2534],[74.2,-0.2415],[76.1,-0.2534],[78.5,-0.2534]],
 [[-25.9,-0.277],[-23.8,-0.2745],[-22.4,-0.2578],[-20.8,-0.272],[-18.8,-0.2765],[-16.15,-0.2645],[-14.3,-0.2745],[-12.5,-0.2765],[-10.46,-0.274],[-8.0,-0.277],[26.3,-0.277],[28.3,-0.2745],[29.7,-0.2578],[31.3,-0.272],[33.3,-0.2765],[35.95,-0.2645],[37.8,-0.2745],[39.6,-0.2765],[41.64,-0.274],[44.0,-0.277],[78.5,-0.277]],
 [[-25.9,-0.2985],[78.5,-0.2985]],
 [[-25.9,-0.3299],[8.0,-0.3299],[9.5,-0.327],[10.8,-0.3114],[12.2,-0.330],[13.8,-0.3125],[15.5,-0.326],[17.5,-0.329],[20.46,-0.327],[24.0,-0.3299],[60.1,-0.3299],[61.6,-0.327],[62.9,-0.3114],[64.3,-0.330],[65.9,-0.3125],[67.6,-0.326],[69.6,-0.329],[72.56,-0.327],[76.0,-0.3299],[78.5,-0.3299]]
];
const dDashed = [[-25.9,-0.3363],[-16.0,-0.336],[-14.5,-0.3335],[-13.0,-0.3285],[-11.5,-0.3185],[-10.9,-0.330],[-10.2,-0.3185],[-9.0,-0.330],[-7.5,-0.3363],[36.1,-0.336],[37.6,-0.3335],[39.1,-0.3285],[40.6,-0.3185],[41.2,-0.330],[41.9,-0.3185],[43.1,-0.330],[44.6,-0.3363],[78.5,-0.3363]];

// ---------------- styling ----------------
const C = {pot:'#000000', blue:'#0000ff', orange:'#ffa500', lime:'#00ee00', mag:'#ff00ff', red:'#ff0000', hh:'#9400d3', lh:'#138a13', dash:'#6e6e6e', frame:'#222222'};
const FONT = 'DejaVu Serif, serif';
const flatTol = {y:0.0022, y2:0.0011, y3:0.0026, y4:0.0014};

function step(wells, range, barrier, well){
  const x=[range[0]], y=[barrier];
  wells.forEach(w=>{ x.push(w[0],w[0],w[1],w[1]); y.push(barrier,well,well,barrier); });
  x.push(range[1]); y.push(barrier);
  return {x,y};
}
function curve(pts, color, width, xa, ya, extra, dash){
  const tol = flatTol[ya], sx=[], sy=[], lx=[], ly=[];
  let chunk=[pts[0]];
  const flush=()=>{ if(chunk.length>1){ chunk.forEach(p=>{sx.push(p[0]); sy.push(p[1]);}); sx.push(null); sy.push(null);} };
  for(let i=1;i<pts.length;i++){
    const a=pts[i-1], b=pts[i];
    if(b[0]-a[0] > 2.0 && Math.abs(b[1]-a[1]) < tol){
      flush(); lx.push(a[0],b[0],null); ly.push(a[1],b[1],null); chunk=[b];
    } else chunk.push(b);
  }
  flush();
  const base = {type:'scatter', mode:'lines', xaxis:xa, yaxis:ya, hoverinfo:'skip', showlegend:false, connectgaps:false};
  const out = [];
  if(lx.length) out.push(Object.assign({}, base, {x:lx, y:ly, line:{color, width, dash:dash||'solid', shape:'linear'}}));
  if(sx.length) out.push(Object.assign({}, base, {x:sx, y:sy, line:{color, width, dash:dash||'solid', shape:'spline', smoothing:1}}));
  if(extra && out.length) Object.assign(out[0], extra);
  return out;
}
function pot(wells, range, lv, color, xa, ya, w){
  const s = step(wells, range, lv[0], lv[1]);
  return {type:'scatter', mode:'lines', x:s.x, y:s.y, xaxis:xa, yaxis:ya, line:{color:color, width:w, shape:'linear'}, hoverinfo:'skip', showlegend:false};
}
const DASH = '7px,5px';
const traces = [];
const add = arr => arr.forEach(t=>traces.push(t));
// (a)
traces.push(pot(wellsL, zRangeL, cbLevelsL, C.pot, 'x', 'y', 2.6));
add(curve(aDashed, C.dash, 1.6, 'x', 'y', null, DASH));
add(curve(aRed, C.red, 2.6, 'x', 'y'));
[aMag4,aMag3,aMag2,aMag1].forEach(m=>add(curve(m, C.mag, 1.6, 'x', 'y')));
add(curve(aGreen, C.lime, 2.6, 'x', 'y'));
add(curve(aOrange, C.orange, 1.6, 'x', 'y'));
add(curve(aBlueLower, C.blue, 2.6, 'x', 'y'));
add(curve(aBlueUpper, C.blue, 2.6, 'x', 'y'));
// (b)
traces.push(pot(wellsL, zRangeL, vbLevelsL, C.lh, 'x2', 'y2', 2.4));
add(curve(bDashed, C.dash, 1.5, 'x2', 'y2', null, DASH));
bLH.forEach((p,i)=>add(curve(p, C.lh, 2.2, 'x2', 'y2', i===0?{showlegend:true,name:'LH',legend:'legend',legendrank:2}:null)));
bHH.forEach((p,i)=>add(curve(p, C.hh, 2.2, 'x2', 'y2', i===0?{showlegend:true,name:'HH',legend:'legend',legendrank:1}:null)));
// (c)
traces.push(pot(wellsR, zRangeR, cbLevelsR, C.pot, 'x3', 'y3', 2.6));
add(curve(cDashed, C.dash, 1.6, 'x3', 'y3', null, DASH));
add(curve(cRed, C.red, 2.6, 'x3', 'y3'));
cMag.forEach(p=>add(curve(p, C.mag, 1.6, 'x3', 'y3')));
add(curve(cGreen, C.lime, 2.6, 'x3', 'y3'));
// (d)
traces.push(pot(wellsR, zRangeR, vbLevelsR, C.hh, 'x4', 'y4', 2.4));
add(curve(dDashed, C.dash, 1.5, 'x4', 'y4', null, DASH));
dHH.forEach((p,i)=>add(curve(p, C.hh, 2.2, 'x4', 'y4', i===0?{showlegend:true,name:'HH',legend:'legend2',legendrank:1}:null)));
dLH.forEach((p,i)=>add(curve(p, C.lh, 2.2, 'x4', 'y4', i===0?{showlegend:true,name:'LH',legend:'legend2',legendrank:2}:null)));

// ---------------- arrows: shaft = line shape, heads = pixel-sized path shapes ----------------
const shapes = [];
const HEAD_UP = 'M0,0 L-5,-17 L5,-17 Z';
const HEAD_DN = 'M0,0 L-5,17 L5,17 Z';
function head(x, y, xr, yr, up, color){
  shapes.push({type:'path', xref:xr, yref:yr, xsizemode:'pixel', ysizemode:'pixel', xanchor:x, yanchor:y,
    path: up?HEAD_UP:HEAD_DN, fillcolor:color, line:{color:color, width:1}, layer:'above'});
}
function shaft(x, y0, y1, xr, yr, color){
  shapes.push({type:'line', xref:xr, yref:yr, x0:x, x1:x, y0, y1, line:{color, width:2.6}, layer:'above'});
}
[[arrowBlueA, C.blue, 'x', 'y'], [arrowRedA, C.red, 'x', 'y'], [arrowRedC, C.red, 'x3', 'y3']].forEach(([a, col, xr, yr])=>{
  shaft(a[0], a[1], a[2], xr, yr, col);
  head(a[0], a[2], xr, yr, true, col);
  head(a[0], a[1], xr, yr, false, col);
});
shaft(arrowBlackA[0], arrowBlackA[1], eRangeA[0]-0.1, 'x', 'y', '#000');
shaft(arrowBlackA[0], eRangeB[1]+0.05, arrowBlackA[2], 'x2', 'y2', '#000');
head(arrowBlackA[0], arrowBlackA[1], 'x', 'y', true, '#000');
head(arrowBlackA[0], arrowBlackA[2], 'x2', 'y2', false, '#000');
shaft(arrowBlackC[0], arrowBlackC[1], eRangeC[0]-0.1, 'x3', 'y3', '#000');
shaft(arrowBlackC[0], eRangeD[1]+0.05, arrowBlackC[2], 'x4', 'y4', '#000');
head(arrowBlackC[0], arrowBlackC[1], 'x3', 'y3', true, '#000');
head(arrowBlackC[0], arrowBlackC[2], 'x4', 'y4', false, '#000');

// ---------------- layout ----------------
const xL = [0.0817, 0.5085], xR = [0.5623, 0.9884];
const yT = [0.5157, 0.955], yB = [0.0755, 0.5157];
const tickFont = {family:FONT, size:24, color:'#000'};
function xax(domain, range, anchor, labels){
  return {domain, range, anchor, showline:true, mirror:!labels, linecolor:C.frame, linewidth:1.6,
    ticks:'inside', ticklen:8, tickwidth:1.3, tickcolor:C.frame, tickmode:'array', tickvals:zTicks,
    minor:{ticks:'inside', ticklen:4, dtick:4, tick0:0, tickcolor:C.frame, tickwidth:1.1},
    showticklabels:labels, tickfont:tickFont, showgrid:false, zeroline:false, fixedrange:true};
}
function yax(domain, range, anchor, tv, minorDtick){
  return {domain, range, anchor, showline:true, mirror:true, linecolor:C.frame, linewidth:1.6,
    ticks:'inside', ticklen:8, tickwidth:1.3, tickcolor:C.frame, tickmode:'array', tickvals:tv,
    minor:{ticks:'inside', ticklen:4, dtick:minorDtick, tick0:0, tickcolor:C.frame, tickwidth:1.1},
    tickfont:tickFont, ticklabelstandoff:6, showgrid:false, zeroline:false, fixedrange:true};
}
function txt(text, x, y, size, extra){
  return Object.assign({text, x, y, xref:'paper', yref:'paper', xanchor:'center', yanchor:'middle', showarrow:false, font:{family:FONT, size, color:'#000'}}, extra||{});
}
function dtxt(text, x, y, xr, yr){
  return {text, x, y, xref:xr, yref:yr, xanchor:'center', yanchor:'middle', showarrow:false, font:{family:FONT,size:17,color:'#000'}};
}
const psi = '|Ψ|<sup>2</sup>';
const annotations = [
  txt('G846', 0.2901, 0.981, 32),
  txt('G858', 0.7837, 0.981, 32),
  txt('(a)', 0.1033, 0.8991, 27),
  txt('(b)', 0.1033, 0.4881, 27),
  txt('(c)', 0.5847, 0.9010, 27),
  txt('(d)', 0.5854, 0.4881, 27),
  txt('Extended states', 0.3838, 0.9077, 28),
  txt('Extended states', 0.8164, 0.9106, 28),
  txt('Conduction band energy (eV)', 0.0193, 0.6993, 24, {textangle:-90}),
  txt('Valence band energy (eV)', 0.0193, 0.294, 24, {textangle:-90}),
  txt('<i>z</i> (nm)', 0.292, 0.0219, 30),
  txt('<i>z</i> (nm)', 0.7818, 0.0219, 30),
  dtxt(psi, -11.3, 0.881, 'x', 'y'),
  dtxt(psi, -11.3, -0.2137, 'x2', 'y2'),
  dtxt(psi, 20.3, 0.886, 'x3', 'y3'),
  dtxt(psi, 25.6, -0.007, 'x4', 'y4')
];
const legendBase = {bgcolor:'rgba(0,0,0,0)', borderwidth:0, font:{family:FONT, size:22, color:'#000'}, xanchor:'right', yanchor:'top', tracegroupgap:0, itemwidth:30, traceorder:'normal'};
const layout = {
  width:1558, height:1051, margin:{l:0,r:0,t:0,b:0}, paper_bgcolor:'#fff', plot_bgcolor:'#fff',
  font:{family:FONT, color:'#000'},
  xaxis: xax(xL, zRangeL, 'y', false),
  yaxis: yax(yT, eRangeA, 'x', eTicksA, 0.02),
  xaxis2: xax(xL, zRangeL, 'y2', true),
  yaxis2: yax(yB, eRangeB, 'x2', eTicksB, 0.01),
  xaxis3: xax(xR, zRangeR, 'y3', false),
  yaxis3: yax(yT, eRangeC, 'x3', eTicksC, 0.02),
  xaxis4: xax(xR, zRangeR, 'y4', true),
  yaxis4: yax(yB, eRangeD, 'x4', eTicksD, 0.01),
  legend: Object.assign({x:0.5045, y:0.518}, legendBase),
  legend2: Object.assign({x:0.9845, y:0.518}, legendBase),
  annotations, shapes, showlegend:true
};
Plotly.newPlot('chart', traces, layout, {staticPlot:true, displayModeBar:false});
</script></body></html>
